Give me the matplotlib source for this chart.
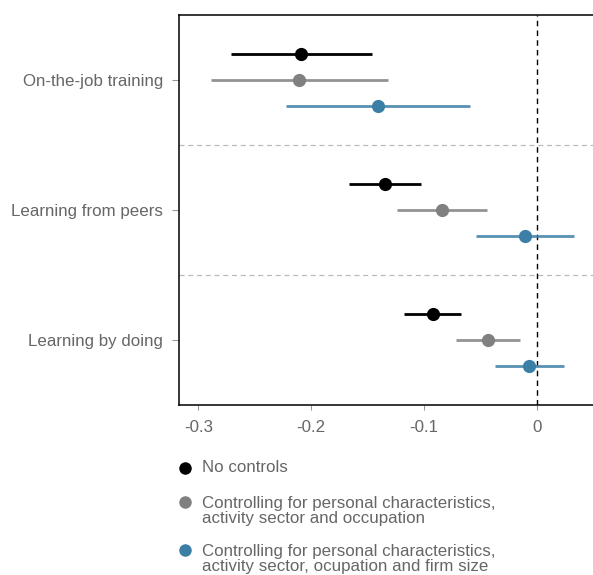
import matplotlib
matplotlib.use("Agg")
import matplotlib.pyplot as plt
from matplotlib.lines import Line2D
import numpy as np

plt.rcParams["font.family"] = ["Liberation Sans", "DejaVu Sans"]

# Outcomes, listed from bottom to top of the chart
outcomes = ["Learning by doing", "Learning from peers", "On-the-job training"]

series_labels = [
    "No controls",
    "Controlling for personal characteristics,\nactivity sector and occupation",
    "Controlling for personal characteristics,\nactivity sector, ocupation and firm size",
]
series_colors = ["#000000", "#808080", "#3b7fa6"]

# Point estimates (same order as outcomes)
est_none = [-0.092, -0.135, -0.209]
est_occ = [-0.0435, -0.084, -0.2105]
est_firm = [-0.007, -0.0105, -0.141]

# Confidence interval bounds
low_none = [-0.1175, -0.167, -0.2715]
high_none = [-0.0675, -0.103, -0.1465]
low_occ = [-0.072, -0.124, -0.289]
high_occ = [-0.0155, -0.044, -0.132]
low_firm = [-0.0375, -0.054, -0.2225]
high_firm = [0.0235, 0.033, -0.0595]

x_ticks = [-0.3, -0.2, -0.1, 0.0]
x_tick_labels = ["-0.3", "-0.2", "-0.1", "0"]

estimates = [est_none, est_occ, est_firm]
lows = [low_none, low_occ, low_firm]
highs = [high_none, high_occ, high_firm]
offsets = [0.2, 0.0, -0.2]

W, H = 593, 575
fig = plt.figure(figsize=(W / 100, H / 100), dpi=100)
ax = fig.add_axes([179.3 / W, 170 / H, 1 - 179.3 / W + 0.002, 390 / H])

base = np.arange(len(outcomes))
for est, lo, hi, off, col in zip(estimates, lows, highs, offsets, series_colors):
    y = base + off
    ax.hlines(y, lo, hi, color=col, lw=2.0, alpha=0.85 if col != "#000000" else 1.0, zorder=3)
    ax.plot(est, y, "o", color=col, ms=9.5, mec="none", zorder=4)

# Separators between outcome groups and zero reference line
for yy in [0.5, 1.5]:
    ax.axhline(yy, color="#bbbbbb", lw=0.9, ls=(0, (4, 3)), zorder=1)
ax.axvline(0, color="black", lw=1.0, ls=(0, (4, 3)), zorder=2)

ax.set_xlim(-0.3169, 0.0505)
ax.set_ylim(-0.5, 2.5)
ax.set_yticks(base)
ax.set_yticklabels(outcomes)
ax.set_xticks(x_ticks)
ax.set_xticklabels(x_tick_labels)

ax.tick_params(axis="y", length=5, width=0.8, color="#999999", labelcolor="#666666",
               labelsize=12.2, pad=6.5)
ax.tick_params(axis="x", length=3.6, width=0.8, color="#999999", labelcolor="#666666",
               labelsize=12.2, pad=7)
ax.spines["right"].set_visible(False)
for s in ["left", "top", "bottom"]:
    ax.spines[s].set_linewidth(1.1)
    ax.spines[s].set_color("black")

# Legend drawn below the plot
legend_tops = [460, 496, 544]
marker_ys = [468.3, 501.7, 550]
for lab, col, top, my in zip(series_labels, series_colors, legend_tops, marker_ys):
    fig.text(201.5 / W, 1 - top / H, lab, ha="left", va="top", fontsize=12.2,
             color="#666666", linespacing=0.97)
    fig.add_artist(Line2D([185 / W], [1 - my / H], marker="o", ms=9,
                          color=col, mec="none", transform=fig.transFigure))

fig.savefig("out.png", dpi=100)
